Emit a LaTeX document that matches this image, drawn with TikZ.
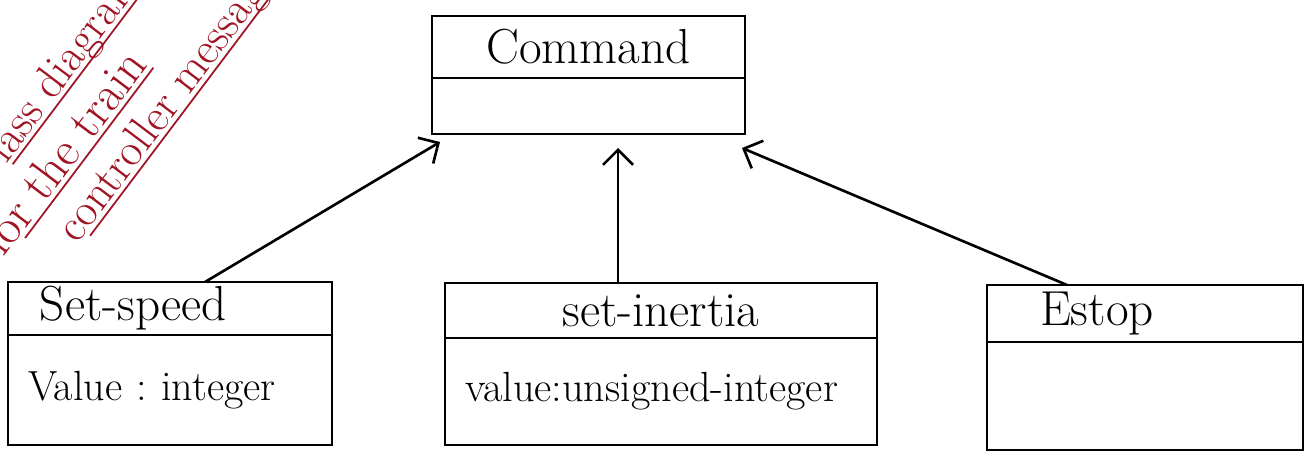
\documentclass[tikz,border=0pt]{standalone}
\usetikzlibrary{arrows.meta,positioning}
\definecolor{inkred}{RGB}{160,20,35}

\begin{document}
\begin{tikzpicture}[line width=1.5pt, >={Straight Barb[length=3mm,width=6mm]},
	classname/.style={draw, inner sep=0pt, outer sep=0pt, font=\fontsize{28}{32}\selectfont},
	classbody/.style={draw, inner xsep=0.4cm, inner ysep=0pt, outer sep=0pt, align=left, font=\fontsize{24}{28}\selectfont\frenchspacing},
	note/.style={inkred, rotate=53, anchor=base west, inner sep=0pt, font=\fontsize{26}{30}\selectfont}]
	\useasboundingbox (0,0) rectangle (26.28,9.14);
	% base class
	\node[classname, minimum width=6.26cm, minimum height=1.24cm] (cmd) at (11.77,8.2) {Command};
	\node[classbody, below=0pt of cmd, minimum width=6.26cm, minimum height=1.12cm] (cmdbody) {};
	% message classes
	\node[classname, minimum width=6.48cm, minimum height=1.06cm, inner xsep=0.64cm, text width=5.2cm, align=left] (speed) at (3.40,2.97) {Set-speed};
	\node[classbody, below=0pt of speed, minimum width=6.48cm, minimum height=2.2cm, text width=5.68cm] (speedbody) {Value : integer};
	\node[classname, minimum width=8.64cm, minimum height=1.10cm] (inertia) at (13.22,2.93) {set-inertia};
	\node[classbody, below=0pt of inertia, minimum width=8.64cm, minimum height=2.14cm, text width=7.84cm] (inertiabody) {value:unsigned-integer};
	\node[classname, minimum width=6.32cm, minimum height=1.14cm, inner xsep=1.06cm, text width=4.2cm, align=left] (estop) at (22.9,2.87) {Estop};
	\node[classbody, below=0pt of estop, minimum width=6.32cm, minimum height=2.16cm] (estopbody) {};
	% generalisation arrows
	\draw[->] ([xshift=0.7cm]speed.north) -- ([xshift=0.16cm,yshift=-0.16cm]cmdbody.south west);
	\draw[->] ([xshift=-0.86cm]inertia.north) -- ([xshift=0.59cm,yshift=-0.28cm]cmdbody.south);
	\draw[->] ([xshift=-1.56cm]estop.north) -- ([xshift=-0.06cm,yshift=-0.28cm]cmdbody.south east);
	% margin note
	\node[note] (title1) at (-0.26,5.34) {Class diagram};
	\node[note, font=\fontsize{28}{32}\selectfont] (title2) at (0.06,3.96) {for the train};
	\node[note] (title3) at (1.53,4.23) {controller messages};
	\foreach \t/\d in {title1/0.72, title2/0.6, title3/0.32}
		\draw[inkred, line width=1pt] ([shift={(53:\d)}, shift={(-37:0.1)}]\t.base west) -- ([shift={(-37:0.1)}]\t.base east);
\end{tikzpicture}
\end{document}
